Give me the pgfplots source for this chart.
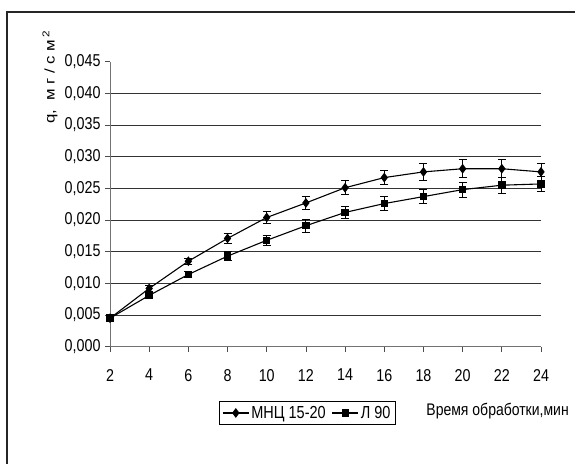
\documentclass[border=0pt]{standalone}
\usepackage{fontspec}
\setmainfont{Liberation Sans}
\usepackage{graphicx}
\usepackage{pgfplots}
\pgfplotsset{compat=1.18}
\newcommand{\tall}[1]{\scalebox{1}[1.2]{#1}}
\begin{document}
\begin{tikzpicture}[x=1pt,y=1pt]
\useasboundingbox (0,0) rectangle (575,463);
\draw[line width=1.1pt,black!85] (7,-5) -- (7,451) -- (580,451);
\begin{axis}[
  at={(110pt,116.3pt)}, anchor=south west,
  scale only axis, width=431pt, height=285pt,
  xmin=2, xmax=24, ymin=0, ymax=0.045,
  axis x line=bottom, axis y line=left,
  axis line style={-, draw=black!55, line width=0.9pt},
  xtick={2,4,...,24},
  ytick={0.005,0.010,...,0.0401},
  extra y ticks={0,0.045},
  extra y tick style={grid=none},
  ymajorgrids,
  major grid style={black!80, line width=0.7pt},
  tick align=outside, major tick length=5pt,
  tick style={black!70, line width=0.8pt},
  /pgf/number format/assume math mode=true,
  yticklabel style={xshift=-1pt, /pgf/number format/.cd, fixed, fixed zerofill, precision=3, use comma},
  scaled y ticks=false,
  tick label style={font=\fontsize{14.3}{16}\selectfont, yscale=1.2},
  xticklabel style={yshift=-11pt},
  ylabel={\scalebox{1.2}[1]{q, \ м г / с м\textsuperscript{\,2}}},
  ylabel style={at={(axis description cs:-0.139,0.946)}, anchor=center, font=\fontsize{14}{16}\selectfont},
  xlabel={\tall{Время обработки,мин}},
  xlabel style={at={(axis description cs:0.726,-0.2256)}, anchor=west, font=\fontsize{14}{16}\selectfont},
  legend columns=2,
  legend image code/.code={\draw[mark repeat=2,mark phase=2] plot coordinates {(0pt,0pt)(13pt,0pt)(26pt,0pt)};},
  legend style={at={(axis description cs:0.458,-0.2326)}, anchor=center, draw=black, line width=0.8pt,
    font=\fontsize{14.5}{16}\selectfont, inner sep=2.5pt, /tikz/every even column/.append style={column sep=4pt}},
  clip=false,
]
\addplot[black, line width=1.1pt, mark=diamond*, mark size=4pt, mark options={solid, fill=black},
  error bars/.cd, y dir=both, y explicit, error bar style={line width=0.9pt}, error mark options={rotate=90, mark size=4pt, line width=0.9pt}]
coordinates {
(2,0.0045) +- (0,0.0003)
(4,0.0092) +- (0,0.0005)
(6,0.0135) +- (0,0.0005)
(8,0.0171) +- (0,0.0008)
(10,0.0204) +- (0,0.0009)
(12,0.0227) +- (0,0.0011)
(14,0.0251) +- (0,0.0011)
(16,0.0267) +- (0,0.0011)
(18,0.0276) +- (0,0.0014)
(20,0.0281) +- (0,0.0014)
(22,0.0281) +- (0,0.0014)
(24,0.0276) +- (0,0.0014)
};
\addlegendentry{\tall{МНЦ 15-20}}
\addplot[black, line width=1.1pt, mark=square*, mark size=3.2pt, mark options={solid, fill=black},
  error bars/.cd, y dir=both, y explicit, error bar style={line width=0.9pt}, error mark options={rotate=90, mark size=4pt, line width=0.9pt}]
coordinates {
(2,0.0045) +- (0,0.0003)
(4,0.0081) +- (0,0.0004)
(6,0.0114) +- (0,0.0005)
(8,0.0143) +- (0,0.0007)
(10,0.0168) +- (0,0.0008)
(12,0.0191) +- (0,0.0010)
(14,0.0212) +- (0,0.0010)
(16,0.0226) +- (0,0.0011)
(18,0.0237) +- (0,0.0011)
(20,0.0248) +- (0,0.0012)
(22,0.0255) +- (0,0.0013)
(24,0.0257) +- (0,0.0012)
};
\addlegendentry{\tall{Л 90}}
\end{axis}
\end{tikzpicture}
\end{document}
